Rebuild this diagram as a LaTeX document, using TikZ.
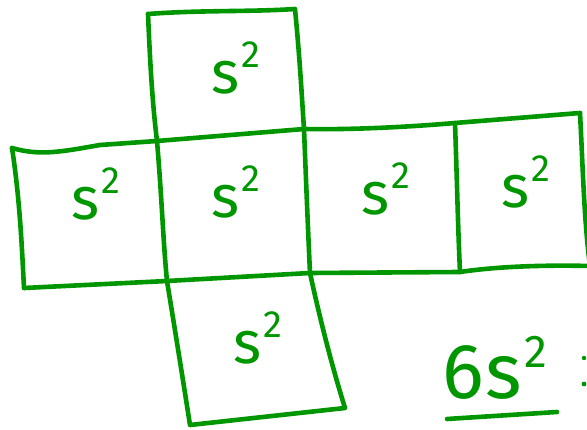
\documentclass[tikz,border=0pt]{standalone}
\usepackage{fontspec}
\setmainfont{Fira Sans}
\definecolor{pen}{RGB}{0,150,0}
\newcommand{\sqlab}{s\kern2pt\raisebox{0.42em}{\fontsize{38}{40}\selectfont 2}}
\tikzset{
  ink/.style={draw=pen, line width=4.6pt, line cap=round, line join=round},
  lab/.style={text=pen, font=\fontsize{60}{66}\selectfont, inner sep=0pt}
}
\begin{document}
\begin{tikzpicture}[x=1pt,y=-1pt]
\useasboundingbox (0,0) rectangle (587,430);
\clip (0,0) rectangle (587,430);
\coordinate (A) at (148,14);
\coordinate (B) at (295,9);
\coordinate (C) at (157,141);
\coordinate (D) at (304,129);
\coordinate (E) at (12,148);
\coordinate (F) at (24,288);
\coordinate (G) at (167,281);
\coordinate (H) at (310,273);
\coordinate (I) at (455,123);
\coordinate (J) at (580,113);
\coordinate (K) at (460,272);
\coordinate (L) at (590,266);
\coordinate (M) at (190,425);
\coordinate (N) at (345,408);
% top square
\draw[ink] (A) .. controls (150,60) and (152,100) .. (C);
\draw[ink] (A) .. controls (200,10) and (250,12) .. (B) .. controls (300,60) and (302,100) .. (D);
% top line of middle row
\draw[ink] (E) .. controls (40,156) and (60,152) .. (100,145) -- (C) -- (D) .. controls (360,130) and (420,126) .. (I) -- (J);
% bottom line of middle row
\draw[ink] (F) -- (G) -- (H) -- (K) .. controls (500,266) and (550,265) .. (L);
% verticals
\draw[ink] (E) .. controls (20,200) and (22,250) .. (F);
\draw[ink] (C) .. controls (162,200) and (163,240) .. (G);
\draw[ink] (D) .. controls (306,180) and (308,230) .. (H);
\draw[ink] (I) .. controls (457,180) and (458,230) .. (K);
\draw[ink] (J) .. controls (583,170) and (584,220) .. (L);
% bottom square
\draw[ink] (G) .. controls (175,330) and (183,380) .. (M) -- (N) .. controls (330,360) and (318,310) .. (H);
% labels
\node[lab] (t1) at (236,68) {\sqlab};
\node[lab] (t2) at (96,194) {\sqlab};
\node[lab] (t3) at (236,192) {\sqlab};
\node[lab] (t4) at (386,189) {\sqlab};
\node[lab] (t5) at (526,182) {\sqlab};
\node[lab] (t6) at (258,338) {\sqlab};
\node[lab, font=\fontsize{78}{84}\selectfont, anchor=west] (tot) at (442,368) {6\kern2pt s\kern2pt\raisebox{0.4em}{\fontsize{46}{50}\selectfont 2}};
\draw[ink] (447,419) -- (557,412);
\fill[pen] (584,384) circle (2.4pt);
\fill[pen] (584,358) circle (2.2pt);
\end{tikzpicture}
\end{document}
